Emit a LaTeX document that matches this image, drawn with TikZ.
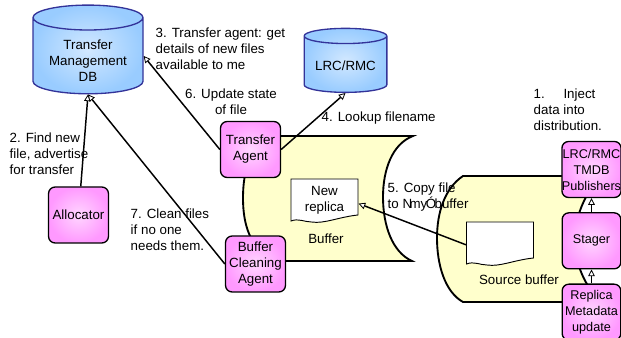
\documentclass[tikz,border=0pt]{standalone}
\usepackage{fontspec}
\setmainfont{Liberation Sans}
\usepackage{tikz}
\usetikzlibrary{arrows.meta,shapes.geometric,positioning}
\definecolor{pinkedge}{HTML}{FF99FF}
\definecolor{pinkmid}{HTML}{FFD6FF}
\definecolor{blueedge}{HTML}{99CCFF}
\definecolor{bluemid}{HTML}{D2E8FF}
\definecolor{blueline}{HTML}{333399}
\definecolor{bufferfill}{HTML}{FFFFCC}
\tikzset{
  agent/.style={draw,line width=1pt,rounded corners=5pt,shading=radial,inner color=pinkmid,outer color=pinkedge,
    minimum width=45pt,minimum height=42pt,inner sep=0pt,align=center},
  narrowagent/.style={agent,minimum width=44pt,font=\fontsize{9.5pt}{12pt}\selectfont},
  store/.style={cylinder,shape border rotate=90,draw=blueline,line width=1pt,shading=radial,inner color=bluemid,outer color=blueedge,
    inner sep=0pt,align=center},
  bufferpath/.style={draw,fill=bufferfill,line width=1.4pt},
  sheetline/.style={draw,fill=white,line width=0.7pt},
  sheet/.style={minimum width=50pt,minimum height=27pt,inner sep=0pt,align=center},
  note/.style={anchor=west,inner sep=0pt,align=left},
  notec/.style={inner sep=0pt,align=center}
}
\newcommand{\docsheet}[4]{
  \draw[sheetline] (#2-33.5,#3-18) -- (#2+33.5,#3-18) -- (#2+33.5,#3+18) .. controls (#2+14,#3+20) and (#2,#3+27) .. (#2-13,#3+25) .. controls (#2-20,#3+25) and (#2-26,#3+21) .. (#2-33.5,#3+24) -- cycle;
  \node[sheet] (#1) at (#2,#3+3) {#4};
}
\begin{document}
\begin{tikzpicture}[x=0.75pt,y=-0.75pt,on grid,node distance=53.5pt,
    >={Triangle[fill=white,length=5pt,width=5pt,line width=0.6pt]},line width=1.1pt]
  \useasboundingbox (0,0) rectangle (621,338);
  % buffers
  \path[bufferpath] (281,136) -- (413,136) .. controls (392,144) and (383,170) .. (383,197) .. controls (383,225) and (392,252) .. (412,261)
    -- (270,261) .. controls (250,245) and (243,225) .. (243,198) .. controls (243,170) and (250,150) .. (270,136) -- cycle;
  \path[bufferpath] (463,176) -- (600,176) .. controls (585,195) and (575,215) .. (575,240) .. controls (575,265) and (585,285) .. (600,302)
    -- (463,302) .. controls (445,292) and (437,265) .. (437,238) .. controls (437,212) and (445,188) .. (463,176) -- cycle;
  \docsheet{newreplica}{324.5}{197}{New\\replica}
  \docsheet{sourcedoc}{500}{240}{}

  \node[store,minimum width=82.5pt,minimum height=62pt,aspect=0.32] (tmdb) at (88,56) {\mbox{}\\[2pt]Transfer\\Management\\DB};
  \node[store,minimum width=62pt,minimum height=48pt,aspect=0.25,text height=11.5pt,text depth=2pt] (lrc) at (345.5,64.5) {LRC/RMC};

  \node[agent] (transfer) at (250.5,149.5) {Transfer\\Agent};
  \node[agent] (allocator) at (78.5,215) {Allocator};
  \node[agent] (cleaning) at (255.5,264) {Buffer\\Cleaning\\Agent};
  \node[narrowagent] (publishers) at (591.5,169.5) {LRC/RMC\\TMDB\\Publishers};
  \node[narrowagent,below=of publishers] (stager) {Stager};
  \node[narrowagent,below=of stager] (metadata) {Replica\\Metadata\\update};

  \path[->]
    (allocator) edge (tmdb.south)
    (cleaning.west) edge (tmdb.south)
    (transfer.west) edge (tmdb.east)
    (transfer.east) edge (lrc.south)
    (sourcedoc.183) edge (newreplica.-6)
    (stager) edge (publishers)
    (metadata) edge (stager)
    ;

  \node[note] (step1) at (533,110) {1.\hspace{14pt}Inject\\data into\\distribution.};
  \node[note] (step2) at (9,154) {2. Find new\\file, advertise\\for transfer};
  \node[note] (step3) at (155,49) {3. Transfer agent: get\\details of new files\\available to me};
  \node[note] (step4) at (321,118) {4. Lookup filename};
  \node[note] (step5) at (387,197) {5. Copy file\\to N\kern-2pt my\kern-1pt Ó\kern-1.3pt buffer};
  \node[notec] (step6) at (231,102) {6. Update state\\of file};
  \node[note] (step7) at (130,230) {7. Clean files\\if no one\\needs them.};
  \node[notec] (bufferlabel) at (326,239) {Buffer};
  \node[notec] (sourcelabel) at (519,280) {Source buffer};
\end{tikzpicture}
\end{document}
